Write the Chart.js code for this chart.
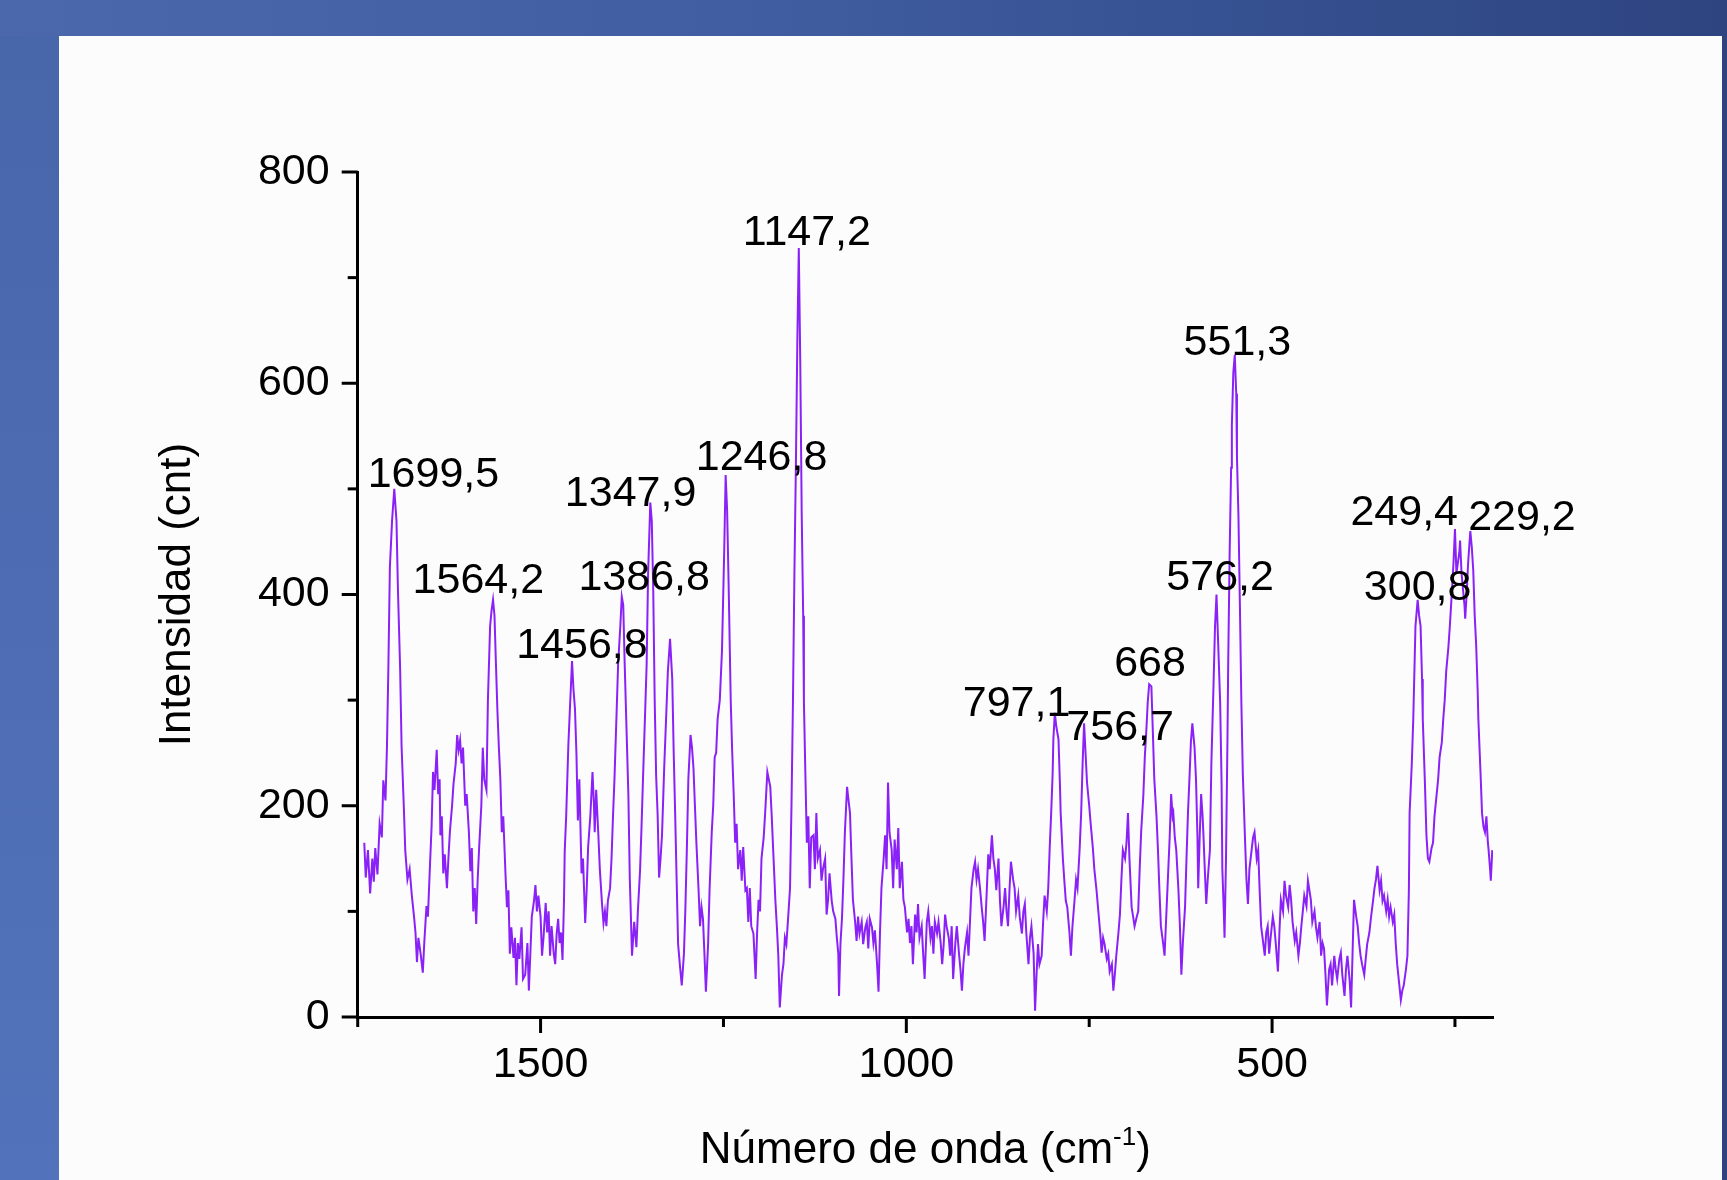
<!DOCTYPE html>
<html>
<head>
<meta charset="utf-8">
<script src="https://cdn.jsdelivr.net/npm/chart.js@4.4.1/dist/chart.umd.min.js"></script>
<style>
    html, body { margin: 0; padding: 0; }
    body {
        width: 1727px; height: 1180px; overflow: hidden; position: relative;
        background: linear-gradient(90deg, #4a68ab 0%, #3f5da0 45%, #2d4480 100%);
    }
    #strip {
        position: absolute; left: 0; top: 36px; width: 59px; height: 1144px;
        background: linear-gradient(180deg, #4866aa 0%, #5272bb 100%);
    }
    #panel {
        position: absolute; left: 59px; top: 36px; width: 1663px; height: 1144px;
        background: #fcfcfc;
    }
    #wrap { position: absolute; left: 0; top: 0; width: 1727px; height: 1180px; }
</style>
</head>
<body>
<div id="strip"></div>
<div id="panel"></div>
<div id="wrap"><canvas id="chart"></canvas></div>
<script>
// Raman spectrum (wavenumber in cm-1, intensity in counts)
var wavenumber = [
    1741, 1739, 1736, 1733, 1730, 1728, 1726, 1723, 1720, 1717, 1715, 1712, 1710, 1708, 1706, 1703, 1700, 1697, 1695, 1692,
    1690, 1687, 1685, 1682, 1679, 1676, 1673, 1671, 1669, 1667, 1664, 1661, 1659, 1656, 1654, 1651, 1649, 1647, 1645, 1642,
    1640, 1638, 1637, 1635, 1633, 1631, 1628, 1626, 1624, 1621, 1619, 1616, 1614, 1612, 1610, 1608, 1606, 1603, 1601, 1598,
    1596, 1594, 1592, 1590, 1588, 1586, 1584, 1581, 1579, 1577, 1574, 1572, 1569, 1567, 1565, 1563, 1561, 1559, 1557, 1555,
    1553, 1551, 1548, 1546, 1544, 1542, 1540, 1537, 1535, 1533, 1531, 1529, 1526, 1524, 1521, 1518, 1516, 1514, 1512, 1509,
    1507, 1505, 1503, 1500, 1498, 1496, 1493, 1491, 1489, 1487, 1485, 1482, 1480, 1478, 1476, 1474, 1472, 1470, 1468, 1467,
    1465, 1462, 1460, 1457, 1455, 1453, 1451, 1449, 1447, 1444, 1442, 1439, 1437, 1435, 1432, 1429, 1427, 1426, 1424, 1421,
    1419, 1416, 1414, 1412, 1410, 1408, 1405, 1403, 1401, 1399, 1396, 1394, 1391, 1389, 1387, 1385, 1382, 1380, 1378, 1375,
    1372, 1369, 1367, 1364, 1362, 1360, 1357, 1355, 1353, 1350, 1348, 1346, 1344, 1342, 1340, 1338, 1336, 1334, 1331, 1328,
    1326, 1323, 1320, 1318, 1316, 1314, 1312, 1309, 1307, 1304, 1302, 1300, 1298, 1295, 1293, 1291, 1289, 1287, 1284, 1282,
    1280, 1278, 1276, 1274, 1271, 1269, 1266, 1264, 1262, 1260, 1258, 1255, 1252, 1249, 1247, 1245, 1243, 1240, 1238, 1236,
    1234, 1232, 1230, 1227, 1225, 1223, 1220, 1218, 1216, 1214, 1212, 1209, 1206, 1204, 1202, 1200, 1198, 1195, 1193, 1190,
    1188, 1186, 1184, 1182, 1179, 1177, 1175, 1173, 1170, 1168, 1166, 1164, 1161, 1159, 1157, 1155, 1153, 1151, 1149, 1147,
    1145, 1143, 1141, 1140, 1138, 1136, 1134, 1132, 1130, 1127, 1125, 1123, 1121, 1118, 1116, 1114, 1111, 1109, 1107, 1105,
    1102, 1100, 1097, 1095, 1093, 1092, 1090, 1088, 1086, 1084, 1081, 1079, 1077, 1075, 1073, 1070, 1068, 1066, 1064, 1061,
    1059, 1056, 1054, 1052, 1050, 1047, 1045, 1043, 1040, 1038, 1036, 1034, 1031, 1029, 1027, 1025, 1023, 1020, 1018, 1016,
    1013, 1011, 1009, 1006, 1004, 1002, 999, 997, 995, 993, 991, 988, 986, 984, 982, 979, 977, 975, 972, 970,
    967, 965, 963, 961, 958, 956, 953, 951, 949, 947, 945, 942, 940, 938, 936, 933, 931, 928, 926, 924,
    922, 920, 917, 915, 913, 911, 908, 906, 904, 902, 899, 897, 895, 893, 890, 888, 886, 883, 881, 879,
    877, 874, 872, 870, 867, 865, 863, 861, 859, 857, 854, 852, 850, 847, 845, 842, 840, 838, 836, 833,
    831, 829, 826, 824, 822, 820, 818, 815, 813, 811, 808, 806, 804, 802, 800, 799, 797, 795, 792, 790,
    789, 786, 784, 782, 780, 777, 775, 773, 770, 768, 766, 763, 761, 759, 757, 755, 753, 750, 748, 745,
    743, 740, 738, 735, 733, 731, 729, 726, 724, 722, 719, 717, 715, 713, 710, 708, 706, 704, 701, 699,
    697, 695, 692, 690, 688, 685, 683, 681, 679, 676, 674, 672, 670, 668, 665, 663, 661, 658, 656, 654,
    652, 649, 647, 645, 643, 640, 638, 636, 635, 633, 631, 628, 626, 624, 622, 619, 617, 615, 613, 611,
    609, 606, 604, 602, 601, 599, 597, 595, 594, 592, 590, 588, 585, 583, 580, 578, 576, 574, 571, 569,
    568, 566, 565, 563, 561, 560, 558, 556, 555, 553, 551, 549, 548, 546, 544, 542, 540, 537, 535, 533,
    531, 528, 526, 524, 521, 519, 517, 515, 513, 510, 508, 506, 504, 502, 499, 497, 495, 492, 490, 488,
    485, 483, 481, 478, 476, 474, 472, 469, 467, 464, 462, 460, 458, 456, 453, 451, 449, 447, 445, 442,
    440, 438, 435, 433, 431, 429, 427, 425, 422, 420, 418, 415, 413, 411, 408, 406, 404, 401, 399, 397,
    394, 392, 390, 388, 385, 383, 381, 379, 377, 374, 372, 370, 367, 365, 362, 360, 358, 356, 353, 351,
    349, 347, 344, 342, 340, 338, 335, 333, 331, 329, 326, 324, 322, 320, 317, 315, 313, 312, 309, 307,
    304, 301, 299, 297, 295, 294, 291, 289, 287, 285, 282, 280, 278, 275, 273, 271, 268, 266, 264, 262,
    259, 257, 254, 252, 250, 248, 246, 244, 243, 241, 239, 237, 236, 234, 232, 230, 229, 227, 225, 223,
    221, 219, 218, 215, 213, 211, 209, 207, 205, 204, 202, 201, 199
];
var intensity = [
    165, 132, 158, 117, 150, 128, 160, 135, 183, 170, 224, 205, 256, 334, 426, 470, 500, 470, 405, 330,
    256, 200, 158, 130, 140, 115, 95, 80, 52, 75, 60, 42, 70, 105, 95, 147, 180, 232, 215, 253,
    211, 225, 172, 190, 136, 154, 122, 150, 175, 200, 221, 240, 267, 253, 262, 240, 255, 200, 211, 175,
    138, 160, 100, 122, 88, 130, 160, 200, 255, 225, 215, 300, 370, 385, 395, 380, 334, 290, 255, 225,
    175, 190, 136, 104, 120, 60, 85, 56, 75, 30, 70, 55, 85, 36, 40, 70, 25, 60, 95, 110,
    125, 100, 115, 95, 58, 75, 108, 80, 100, 58, 86, 60, 50, 79, 93, 70, 80, 54, 110, 157,
    190, 258, 290, 337, 310, 292, 250, 186, 225, 136, 150, 89, 120, 161, 190, 232, 200, 175, 215, 172,
    140, 107, 89, 100, 86, 110, 122, 150, 190, 225, 290, 334, 370, 398, 390, 334, 260, 211, 130, 58,
    90, 66, 100, 139, 180, 225, 290, 334, 420, 487, 470, 405, 300, 228, 192, 132, 150, 172, 236, 290,
    327, 358, 320, 250, 192, 130, 69, 45, 30, 60, 104, 160, 225, 267, 255, 236, 200, 165, 120, 86,
    104, 93, 60, 24, 69, 120, 175, 200, 246, 250, 282, 300, 347, 440, 513, 480, 412, 298, 250, 211,
    165, 183, 140, 158, 129, 161, 120, 122, 90, 122, 86, 79, 36, 80, 111, 100, 150, 170, 193, 232,
    225, 218, 190, 158, 110, 86, 58, 9, 40, 50, 75, 69, 100, 122, 200, 298, 420, 520, 640, 728,
    620, 475, 380, 298, 230, 165, 190, 122, 170, 172, 140, 193, 150, 158, 129, 140, 150, 97, 111, 136,
    110, 100, 93, 75, 60, 20, 70, 93, 130, 175, 218, 205, 193, 150, 111, 90, 72, 95, 79, 90,
    69, 85, 90, 65, 93, 85, 70, 82, 50, 24, 80, 122, 150, 172, 140, 222, 175, 158, 122, 168,
    140, 179, 122, 147, 111, 104, 80, 93, 70, 86, 50, 97, 80, 107, 75, 86, 60, 36, 90, 100,
    75, 86, 60, 90, 79, 90, 70, 50, 68, 97, 86, 75, 58, 86, 36, 70, 86, 60, 45, 25,
    50, 65, 80, 58, 90, 122, 140, 147, 130, 140, 120, 104, 90, 72, 120, 154, 140, 172, 150, 140,
    120, 150, 110, 86, 105, 122, 100, 86, 120, 147, 130, 122, 100, 115, 95, 79, 100, 107, 80, 50,
    75, 86, 60, 6, 40, 69, 50, 58, 90, 115, 100, 122, 160, 193, 230, 263, 288, 275, 263, 220,
    193, 150, 129, 110, 104, 80, 58, 85, 111, 130, 122, 160, 193, 240, 278, 250, 222, 200, 183, 160,
    140, 120, 104, 80, 61, 75, 69, 55, 60, 43, 50, 25, 40, 58, 80, 97, 130, 158, 150, 165,
    193, 150, 104, 95, 86, 95, 100, 140, 175, 210, 246, 270, 298, 315, 313, 270, 225, 190, 158, 120,
    86, 70, 58, 90, 122, 170, 211, 190, 193, 170, 158, 120, 86, 40, 70, 104, 150, 193, 225, 260,
    278, 255, 225, 170, 122, 170, 211, 190, 175, 140, 107, 130, 158, 240, 316, 370, 400, 360, 298, 220,
    140, 100, 75, 150, 263, 334, 440, 520, 560, 610, 627, 590, 530, 475, 390, 298, 230, 168, 130, 107,
    140, 158, 170, 175, 150, 158, 120, 86, 75, 58, 80, 86, 60, 75, 95, 86, 70, 43, 80, 111,
    100, 129, 115, 104, 125, 111, 90, 72, 80, 58, 70, 86, 100, 115, 105, 129, 120, 111, 90, 100,
    85, 75, 90, 58, 70, 65, 40, 11, 45, 50, 30, 58, 45, 36, 55, 61, 40, 20, 45, 58,
    35, 9, 60, 111, 95, 86, 70, 58, 50, 40, 55, 69, 80, 93, 110, 122, 130, 143, 120, 129,
    110, 115, 100, 111, 95, 104, 90, 97, 70, 50, 30, 16, 25, 30, 45, 58, 120, 193, 240, 282,
    370, 395, 380, 370, 320, 282, 220, 172, 150, 147, 160, 165, 190, 211, 225, 246, 260, 282, 300, 327,
    350, 370, 405, 430, 462, 420, 430, 440, 451, 420, 405, 390, 377, 400, 430, 450, 460, 445, 423, 380,
    352, 310, 282, 230, 193, 180, 175, 190, 165, 158, 140, 129, 158
];

// peak labels as printed on the figure
var peakLabels = ['1699,5', '1564,2', '1456,8', '1386,8', '1347,9', '1246,8', '1147,2',
    '797,1', '756,7', '668', '576,2', '551,3', '300,8', '249,4', '229,2'];

var xTickValues = [1750, 1500, 1250, 1000, 750, 500, 250];
var xTickLabels = ['', '1500', '', '1000', '', '500', ''];
var yTickValues = [0, 100, 200, 300, 400, 500, 600, 700, 800];
var yTickLabels = ['0', '', '200', '', '400', '', '600', '', '800'];

// label offsets from the peak top, in px (left edge, baseline)
var labelOffsets = [[-27, -2], [-81, -7], [-56, -3], [-45, -7], [-87, 3], [-30, -5], [-56, -3],
    [-92, 3], [-18, 17], [-35, -8], [-50, -5], [-51, 0], [-54, 0], [-105, -4], [-2, -1]];

var FONT = '"Liberation Sans", Arial, sans-serif';
var TEXT_SIZE = 43;
var TITLE_SIZE = 44;

var points = [];
for (var i = 0; i < wavenumber.length; i++) {
    points.push({ x: wavenumber[i], y: intensity[i] });
}

function peakValue(wn) {
    var best = 0;
    for (var i = 0; i < wavenumber.length; i++) {
        if (Math.abs(wavenumber[i] - wn) <= 4 && intensity[i] > best)
            best = intensity[i];
    }
    return best;
}

var decorations = {
    id: 'decorations',
    afterDraw: function (chart) {
        var ctx = chart.ctx;
        var xs = chart.scales.x;
        var ys = chart.scales.y;
        var area = chart.chartArea;
        ctx.save();

        // tick marks (major long, minor short)
        ctx.strokeStyle = '#000';
        ctx.lineWidth = 3;
        ctx.lineCap = 'butt';
        for (var i = 0; i < xTickValues.length; i++) {
            var px = xs.getPixelForValue(xTickValues[i]);
            var len = xTickLabels[i] ? 16 : 10;
            ctx.beginPath();
            ctx.moveTo(px, area.bottom);
            ctx.lineTo(px, area.bottom + len);
            ctx.stroke();
        }
        for (var j = 0; j < yTickValues.length; j++) {
            var py = ys.getPixelForValue(yTickValues[j]);
            var l = yTickLabels[j] ? 16 : 10;
            ctx.beginPath();
            ctx.moveTo(area.left, py);
            ctx.lineTo(area.left - l, py);
            ctx.stroke();
        }

        // peak labels
        ctx.fillStyle = '#000';
        ctx.font = TEXT_SIZE + 'px ' + FONT;
        ctx.textAlign = 'left';
        ctx.textBaseline = 'alphabetic';
        for (var k = 0; k < peakLabels.length; k++) {
            var wn = parseFloat(peakLabels[k].replace(',', '.'));
            var lx = xs.getPixelForValue(wn) + labelOffsets[k][0];
            var ly = ys.getPixelForValue(peakValue(wn)) + labelOffsets[k][1];
            ctx.fillText(peakLabels[k], lx, ly);
        }

        // y axis title
        ctx.save();
        ctx.translate(178, (area.top + area.bottom) / 2);
        ctx.rotate(-Math.PI / 2);
        ctx.textAlign = 'center';
        ctx.textBaseline = 'middle';
        ctx.font = TITLE_SIZE + 'px ' + FONT;
        ctx.fillText('Intensidad (cnt)', 0, 0);
        ctx.restore();

        // x axis title with superscript
        var main = 'Número de onda (cm';
        var sup = '-1';
        var tail = ')';
        ctx.font = TITLE_SIZE + 'px ' + FONT;
        var w1 = ctx.measureText(main).width;
        var w3 = ctx.measureText(tail).width;
        ctx.font = '26px ' + FONT;
        var w2 = ctx.measureText(sup).width;
        var cx = (area.left + area.right) / 2;
        var start = cx - (w1 + w2 + w3) / 2;
        var base = 1163;
        ctx.font = TITLE_SIZE + 'px ' + FONT;
        ctx.fillText(main, start, base);
        ctx.font = '26px ' + FONT;
        ctx.fillText(sup, start + w1, base - 18);
        ctx.font = TITLE_SIZE + 'px ' + FONT;
        ctx.fillText(tail, start + w1 + w2, base);
        ctx.restore();
    }
};

var config = {
    type: 'line',
    data: {
        datasets: [{
            data: points,
            borderColor: '#8a22f7',
            borderWidth: 2,
            pointRadius: 0,
            fill: false,
            tension: 0
        }]
    },
    plugins: [decorations],
    options: {
        responsive: false,
        animation: false,
        parsing: false,
        layout: { padding: { left: 200, top: 172, right: 234, bottom: 0 } },
        plugins: { legend: { display: false }, tooltip: { enabled: false } },
        scales: {
            x: {
                type: 'linear',
                reverse: true,
                min: 198,
                max: 1750,
                afterBuildTicks: function (s) {
                    s.ticks = xTickValues.map(function (v) { return { value: v }; });
                },
                afterFit: function (s) { s.height = 163; },
                ticks: {
                    autoSkip: false,
                    maxRotation: 0,
                    padding: 6,
                    color: '#000',
                    font: { family: FONT, size: TEXT_SIZE },
                    callback: function (v) { return xTickLabels[xTickValues.indexOf(v)] || ''; }
                },
                grid: { display: true, drawOnChartArea: false, drawTicks: true, tickLength: 16, color: 'rgba(0,0,0,0)' },
                border: { display: true, color: '#000', width: 3 }
            },
            y: {
                type: 'linear',
                min: 0,
                max: 800,
                afterBuildTicks: function (s) {
                    s.ticks = yTickValues.map(function (v) { return { value: v }; });
                },
                afterFit: function (s) { s.width = 157.7; },
                ticks: {
                    padding: 12,
                    color: '#000',
                    font: { family: FONT, size: TEXT_SIZE },
                    callback: function (v) { return yTickLabels[yTickValues.indexOf(v)] || ''; }
                },
                grid: { display: true, drawOnChartArea: false, drawTicks: true, tickLength: 16, color: 'rgba(0,0,0,0)' },
                border: { display: true, color: '#000', width: 3 }
            }
        }
    }
};

var canvas = document.getElementById('chart');
canvas.width = 1727;
canvas.height = 1180;
canvas.style.width = '1727px';
canvas.style.height = '1180px';
var chart = new Chart(canvas.getContext('2d'), config);
</script>
</body>
</html>
